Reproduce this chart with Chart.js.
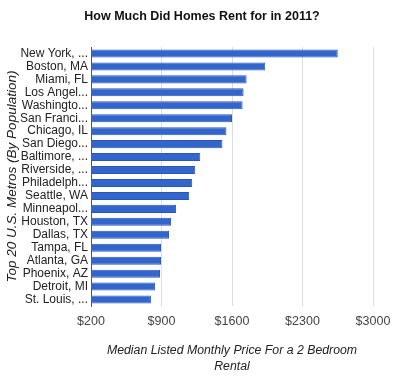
<!DOCTYPE html>
<html>
<head>
<meta charset="utf-8">
<script src="https://cdn.jsdelivr.net/npm/chart.js@4/dist/chart.umd.min.js"></script>
<style>
  html, body { margin: 0; padding: 0; background: #fff; }
  #wrap { width: 400px; height: 390px; }
</style>
</head>
<body>
<div id="wrap"><canvas id="rentChart" width="400" height="390"></canvas></div>
<script>
// metros ordered by rent (labels are truncated like in the original picture)
const metros = [
    'New York, ...', 'Boston, MA', 'Miami, FL', 'Los Angel...', 'Washingto...',
    'San Franci...', 'Chicago, IL', 'San Diego...', 'Baltimore, ...', 'Riverside, ...',
    'Philadelph...', 'Seattle, WA', 'Minneapol...', 'Houston, TX', 'Dallas, TX',
    'Tampa, FL', 'Atlanta, GA', 'Phoenix, AZ', 'Detroit, MI', 'St. Louis, ...'
];

// median listed monthly rent, 2 bedroom
const rents = [
    2650, 1930, 1745, 1715, 1705,
    1600, 1545, 1505, 1285, 1235,
    1205, 1175, 1045, 995, 975,
    895, 895, 885, 835, 795
];

const tickValues = [200, 900, 1600, 2300, 3000];

const fonte = 'Arial, "Liberation Sans", Helvetica, sans-serif';

const ctx = document.getElementById('rentChart').getContext('2d');
const rentChart = new Chart(ctx, {
    type: 'bar',
    data: {
        labels: metros,
        datasets: [{
            label: 'Rent',
            data: rents,
            backgroundColor: '#3366cc',
            borderColor: '#2b58b8',
            borderWidth: 1,
            categoryPercentage: 0.62,
            barPercentage: 1.0
        }]
    },
    options: {
        indexAxis: 'y',
        responsive: false,
        animation: false,
        layout: { padding: { left: 4, right: 0, top: 6, bottom: 15 } },
        plugins: {
            legend: { display: false },
            tooltip: { enabled: false },
            title: {
                display: true,
                text: 'How Much Did Homes Rent for in 2011?',
                color: '#111',
                align: 'center',
                font: { family: fonte, size: 12.5, weight: 'bold' },
                padding: { top: 3, bottom: 23 }
            }
        },
        scales: {
            x: {
                min: 200,
                max: 3000,
                afterBuildTicks: (scale) => {
                    scale.ticks = tickValues.map(v => ({ value: v }));
                },
                ticks: {
                    color: '#444',
                    font: { family: fonte, size: 12.5 },
                    padding: 8,
                    callback: (v) => '$' + v
                },
                grid: { color: '#dddddd', drawTicks: false, lineWidth: 1 },
                border: { display: false },
                title: {
                    display: true,
                    text: ['Median Listed Monthly Price For a 2 Bedroom', 'Rental'],
                    color: '#222',
                    font: { family: fonte, size: 12.3, style: 'italic', lineHeight: 1.3 },
                    padding: { top: 6, bottom: 0 }
                }
            },
            y: {
                afterFit: (scale) => { scale.width = 87; },
                ticks: {
                    color: '#222',
                    font: { family: fonte, size: 12 },
                    padding: 3,
                    autoSkip: false
                },
                grid: { display: false, drawTicks: false },
                border: { display: true, color: '#555', width: 1 },
                title: {
                    display: true,
                    text: 'Top 20 U.S. Metros (By Population)',
                    color: '#222',
                    font: { family: fonte, size: 13.5, style: 'italic' },
                    padding: { top: 0, bottom: 0 }
                }
            },
            // empty right margin so the title centres on the whole picture
            margemDireita: {
                type: 'linear',
                position: 'right',
                afterFit: (scale) => { scale.width = 27; },
                ticks: { display: false },
                grid: { display: false, drawTicks: false },
                border: { display: false }
            }
        }
    }
});
</script>
</body>
</html>
